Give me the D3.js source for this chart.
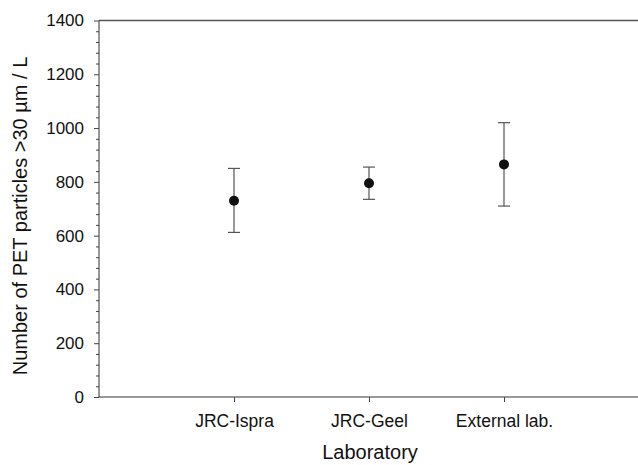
<!DOCTYPE html>
<html>
<head>
<meta charset="utf-8">
<script src="https://cdn.jsdelivr.net/npm/d3@7"></script>
<style>
  html, body { margin: 0; padding: 0; background: #fff; }
  svg { display: block; }
  text { font-family: "Liberation Sans", Arial, sans-serif; fill: #111; }
</style>
</head>
<body>
<div id="chart"></div>
<script>
// Data
const categories = ["JRC-Ispra", "JRC-Geel", "External lab."];
const means = [730, 795, 865];
const lower = [612, 735, 710];
const upper = [850, 855, 1020];
const yTicks = [0, 200, 400, 600, 800, 1000, 1200, 1400];
const yTitle = "Number of PET particles >30 µm / L";
const xTitle = "Laboratory";

const W = 638, H = 465;
const mLeft = 99, mRight = 639, mTop = 20.5, mBottom = 397;

const svg = d3.select("#chart").append("svg").attr("width", W).attr("height", H);

const x = d3.scaleLinear().domain([0, 4]).range([mLeft, mRight]);
const y = d3.scaleLinear().domain([0, 1400]).range([mBottom, mTop]);

// minor ticks on y
const minor = d3.range(0, 1401, 40).filter(v => v % 200 !== 0);
const yMinorAxis = d3.axisLeft(y).tickValues(minor).tickSize(3).tickFormat("");
svg.append("g").attr("transform", `translate(${mLeft},0)`).call(yMinorAxis)
  .call(g => g.select(".domain").remove())
  .call(g => g.selectAll("line").attr("stroke", "#444"));

const yAxis = d3.axisLeft(y).tickValues(yTicks).tickSize(5).tickPadding(10).tickFormat(d3.format("d"));
svg.append("g").attr("transform", `translate(${mLeft},0)`).call(yAxis)
  .call(g => g.select(".domain").attr("stroke", "#333").attr("d", `M0,${mBottom}V${mTop}`))
  .call(g => g.selectAll("line").attr("stroke", "#444"))
  .call(g => g.selectAll("text").attr("font-size", 17).attr("font-family", "Liberation Sans, Arial, sans-serif").attr("fill", "#111"));

const xAxis = d3.axisBottom(x).tickValues([1, 2, 3]).tickSize(5).tickPadding(13)
  .tickFormat(d => categories[d - 1]);
svg.append("g").attr("transform", `translate(0,${mBottom})`).call(xAxis)
  .call(g => g.select(".domain").attr("stroke", "#333").attr("d", `M${mLeft},0H${mRight}`))
  .call(g => g.selectAll("line").attr("stroke", "#444"))
  .call(g => g.selectAll("text").attr("font-size", 17.5).attr("font-family", "Liberation Sans, Arial, sans-serif").attr("fill", "#111"));

// top border
svg.append("line").attr("x1", mLeft).attr("x2", mRight).attr("y1", mTop).attr("y2", mTop)
  .attr("stroke", "#555").attr("stroke-width", 1.4);

// error bars
const g = svg.append("g");
categories.forEach((c, i) => {
  const cx = x(i + 1);
  g.append("line").attr("x1", cx).attr("x2", cx).attr("y1", y(lower[i])).attr("y2", y(upper[i]))
    .attr("stroke", "#555").attr("stroke-width", 1.2);
  [lower[i], upper[i]].forEach(v => {
    g.append("line").attr("x1", cx - 6).attr("x2", cx + 6).attr("y1", y(v)).attr("y2", y(v))
      .attr("stroke", "#555").attr("stroke-width", 1.2);
  });
  g.append("circle").attr("cx", cx).attr("cy", y(means[i])).attr("r", 5).attr("fill", "#111");
});

// titles
svg.append("text").attr("x", 370).attr("y", 459).attr("text-anchor", "middle")
  .attr("font-size", 20).text(xTitle);
svg.append("text").attr("transform", `translate(27,216) rotate(-90)`)
  .attr("text-anchor", "middle").attr("font-size", 20).text(yTitle);
</script>
</body>
</html>
